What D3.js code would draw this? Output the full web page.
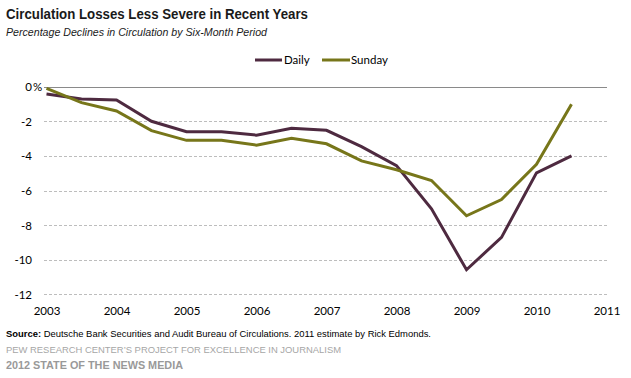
<!DOCTYPE html>
<html><head><meta charset="utf-8">
<script src="https://cdn.jsdelivr.net/npm/d3@7"></script>
<style>body{margin:0;background:#fff}svg{display:block}</style>
</head><body>
<script>
const periods = [2003,2003.5,2004,2004.5,2005,2005.5,2006,2006.5,2007,2007.5,2008,2008.5,2009,2009.5,2010,2010.5];
const daily  = [-0.42,-0.71,-0.77,-2.0,-2.6,-2.6,-2.8,-2.4,-2.52,-3.46,-4.56,-7.06,-10.58,-8.71,-4.98,-4.0];
const sunday = [-0.1,-0.92,-1.4,-2.54,-3.1,-3.1,-3.38,-2.98,-3.3,-4.29,-4.8,-5.42,-7.46,-6.52,-4.48,-1.02];
const seriesNames = ["Daily","Sunday"];
const seriesColors = ["#4e2a40","#77761a"];
const yTicks = [0,-2,-4,-6,-8,-10,-12];
const xTicks = [2003,2004,2005,2006,2007,2008,2009,2010,2011];

const W=631,H=378;
const svg=d3.select("body").append("svg").attr("width",W).attr("height",H);
const x=d3.scaleLinear().domain([2003,2011]).range([46.5,606.5]);
const y=d3.scaleLinear().domain([0,-12]).range([86.7,294.3]);

svg.append("text").attr("x",6).attr("y",19).attr("font-family","Liberation Sans, Arial").attr("font-weight","bold")
  .attr("font-size",14.5).attr("fill","#1a1a1a").attr("textLength",302).attr("lengthAdjust","spacingAndGlyphs")
  .text("Circulation Losses Less Severe in Recent Years");
svg.append("text").attr("x",6).attr("y",36).attr("font-family","Liberation Sans, Arial").attr("font-style","italic")
  .attr("font-size",10.5).attr("fill","#1a1a1a").attr("textLength",261).attr("lengthAdjust","spacingAndGlyphs")
  .text("Percentage Declines in Circulation by Six-Month Period");

// grid
const grid=svg.append("g");
yTicks.forEach(t=>{
  grid.append("line").attr("x1",44).attr("x2",607).attr("y1",Math.round(y(t))+0.5).attr("y2",Math.round(y(t))+0.5)
    .attr("stroke",t===0?"#8a8a8a":"#bdbdbd").attr("stroke-width",1)
    .attr("stroke-dasharray",t===0?null:"3,2");
});

// y axis
const yAxis=svg.append("g").attr("transform","translate(32,0)")
  .call(d3.axisLeft(y).tickValues(yTicks).tickSize(0).tickPadding(0).tickFormat(d=>d===0?"0":d3.format("d")(d).replace("−","-")));
yAxis.select(".domain").remove();
yAxis.selectAll("text").attr("font-family","Lato, sans-serif").attr("font-size",11.5).attr("fill","#000").attr("dy","0.35em");
svg.append("text").attr("x",33).attr("y",y(0)).attr("dy","0.35em").attr("font-family","Lato, sans-serif").attr("font-size",11.5).text("%");

// x axis
const xAxis=svg.append("g").attr("transform","translate(0,305)")
  .call(d3.axisBottom(x).tickValues(xTicks).tickSize(0).tickPadding(0).tickFormat(d3.format("d")));
xAxis.select(".domain").remove();
xAxis.selectAll("text").attr("font-family","Lato, sans-serif").attr("font-size",11.5).attr("fill","#000").attr("dy","0.9em");

// lines (Sunday drawn on top)
const line=d3.line().x((d,i)=>x(periods[i])).y(d=>y(d));
[daily,sunday].forEach((s,k)=>{
  svg.append("path").datum(s).attr("d",line).attr("fill","none").attr("stroke",seriesColors[k])
    .attr("stroke-width",3).attr("stroke-linejoin","miter");
});

// legend
const leg=[{x1:255,x2:282,tx:284},{x1:322,x2:350,tx:351}];
leg.forEach((l,k)=>{
  svg.append("line").attr("x1",l.x1).attr("x2",l.x2).attr("y1",60).attr("y2",60).attr("stroke",seriesColors[k]).attr("stroke-width",3);
  svg.append("text").attr("x",l.tx).attr("y",60).attr("dy","0.35em").attr("font-family","Lato, sans-serif").attr("font-size",11.5).attr("fill","#000").text(seriesNames[k]);
});

// footer
const src=svg.append("text").attr("x",6).attr("y",336.5).attr("font-family","Liberation Sans, Arial").attr("font-size",8.8).attr("fill","#000")
  .attr("textLength",425).attr("lengthAdjust","spacingAndGlyphs");
src.append("tspan").attr("font-weight","bold").text("Source:");
src.append("tspan").text(" Deutsche Bank Securities and Audit Bureau of Circulations. 2011 estimate by Rick Edmonds.");
svg.append("text").attr("x",6).attr("y",352.5).attr("font-family","Liberation Sans, Arial").attr("font-size",8.5).attr("fill","#a6a6a6")
  .attr("textLength",335).attr("lengthAdjust","spacingAndGlyphs")
  .text("PEW RESEARCH CENTER’S PROJECT FOR EXCELLENCE IN JOURNALISM");
svg.append("text").attr("x",6).attr("y",369).attr("font-family","Liberation Sans, Arial").attr("font-weight","bold").attr("font-size",10.3).attr("fill","#999")
  .attr("textLength",177).attr("lengthAdjust","spacingAndGlyphs")
  .text("2012 STATE OF THE NEWS MEDIA");
</script>
</body></html>
